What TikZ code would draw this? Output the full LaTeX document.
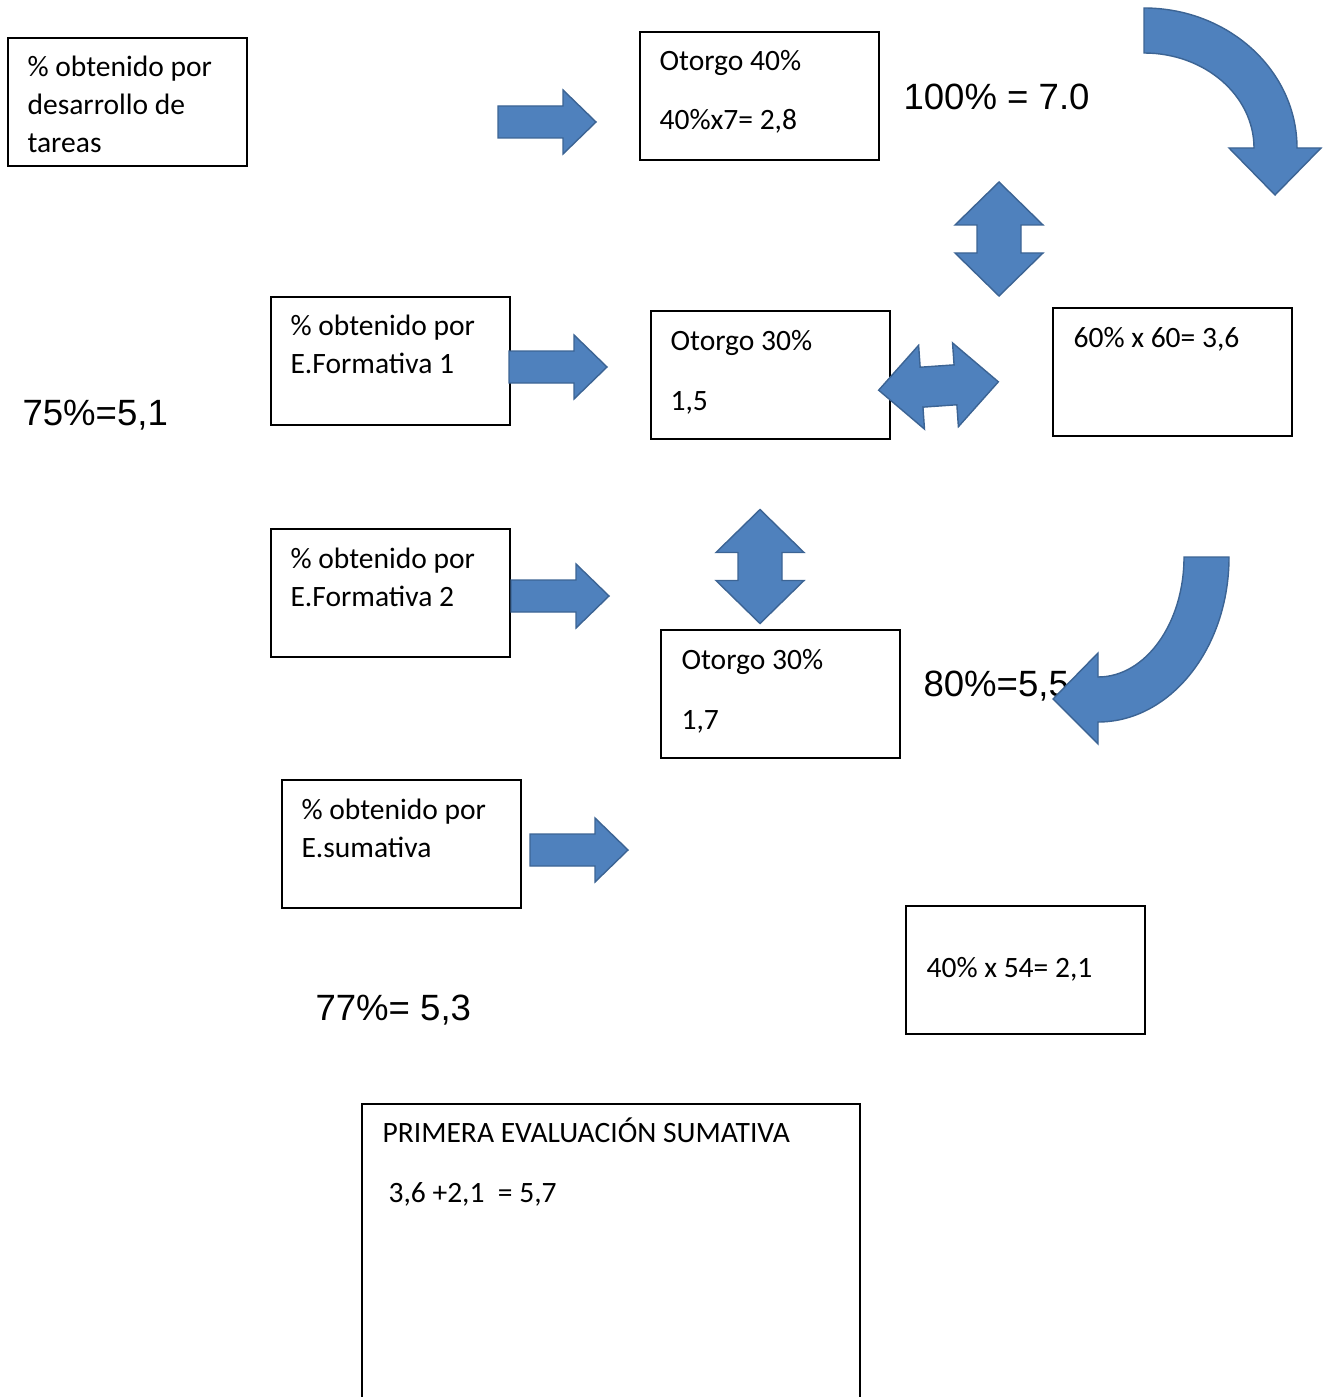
\documentclass[tikz,border=0pt]{standalone}
\usepackage{fontspec}
\newfontfamily\calibri{Carlito}
\newfontfamily\arialf{Liberation Sans}
\usepackage{tikz}
\definecolor{arrowblue}{RGB}{79,129,189}
\definecolor{arrowedge}{RGB}{60,100,148}
\tikzset{
  box/.style={draw, line width=0.7pt, minimum width=2.9875cm, minimum height=1.6cm, inner sep=0pt, anchor=north west},
  txt/.style={font=\calibri\fontsize{10.5}{13.7}\selectfont, anchor=base west, inner sep=0pt},
  big/.style={font=\arialf\fontsize{13}{15}\selectfont, anchor=base west, inner sep=0pt},
  blk/.style={fill=arrowblue, draw=arrowedge, line width=0.5pt, line join=miter},
  rarrow/.pic={\path[blk] (0,-16) -- (65,-16) -- (65,-32) -- (98,0) -- (65,32) -- (65,16) -- (0,16) -- cycle;},
  vdarrow/.pic={\path[blk] (0,-57) -- (44,-14) -- (22,-14) -- (22,14) -- (44,14) -- (0,57) -- (-44,14) -- (-22,14) -- (-22,-14) -- (-44,-14) -- cycle;},
  hdarrow/.pic={\path[blk] (-60,0) -- (-17,-42) -- (-17,-20) -- (17,-20) -- (17,-42) -- (60,0) -- (17,42) -- (17,20) -- (-17,20) -- (-17,42) -- cycle;},
}
\begin{document}
\begin{tikzpicture}[x=0.0125cm, y=-0.0125cm]
  \useasboundingbox (0,0) rectangle (1328,1397);
  % boxes
  \node[box] (tareas) at (7,37) {};
  \node[box] (otorgoA) at (639,31) {};
  \node[box] (formUno) at (270,296) {};
  \node[box] (otorgoB) at (650,310) {};
  \node[box] (total) at (1052,307) {};
  \node[box] (formDos) at (270,528) {};
  \node[box] (otorgoC) at (660,629) {};
  \node[box] (sumativa) at (281,779) {};
  \node[box] (sumaNota) at (905,905) {};
  \node[box, minimum width=6.225cm, minimum height=3.84cm] (primera) at (361,1103) {};

  % texts in the boxes
  \node[txt] (tareas-1) at (27,77) {\% obtenido por};
  \node[txt] (tareas-2) at (27,115) {desarrollo de};
  \node[txt] (tareas-3) at (27,153) {tareas};
  \node[txt] (otorgoA-1) at (659,71) {Otorgo 40\%};
  \node[txt] (otorgoA-2) at (659,130) {40\%x7= 2,8};
  \node[txt] (formUno-1) at (290,336) {\% obtenido por};
  \node[txt] (formUno-2) at (290,374) {E.Formativa 1};
  \node[txt] (otorgoB-1) at (670,350) {Otorgo 30\%};
  \node[txt] (otorgoB-2) at (670,410) {1,5};
  \node[txt] (total-1) at (1073,347) {60\% x 60= 3,6};
  \node[txt] (formDos-1) at (290,568) {\% obtenido por};
  \node[txt] (formDos-2) at (290,606) {E.Formativa 2};
  \node[txt] (otorgoC-1) at (681,669) {Otorgo 30\%};
  \node[txt] (otorgoC-2) at (681,729) {1,7};
  \node[txt] (sumativa-1) at (301,819) {\% obtenido por};
  \node[txt] (sumativa-2) at (301,857) {E.sumativa};
  \node[txt] (sumaNota-1) at (926,977) {40\% x 54= 2,1};
  \node[txt] (primera-1) at (382,1142) {PRIMERA EVALUACIÓN SUMATIVA};
  \node[txt] (primera-2) at (388,1202) {3,6 +2,1 \ = 5,7};

  % loose results
  \node[big] (cien) at (903,110) {100\% = 7.0};
  \node[big] (setenta) at (22,425) {75\%=5,1};
  \node[big] (ochenta) at (923,696) {80\%=5,5};
  \node[big] (setentasiete) at (315,1020) {77\%= 5,3};

  % block arrows
  \pic at (498,122) {rarrow};
  \pic at (509,367) {rarrow};
  \pic at (511,596) {rarrow};
  \pic at (530,850) {rarrow};
  \pic at (999,239) {vdarrow};
  \pic at (760,566.5) {vdarrow};
  \pic[rotate=4] at (938.5,386) {hdarrow};

  % curved arrows
  \path[blk] (1144,8) arc[start angle=-90, end angle=0, x radius=153, y radius=140]
    -- (1321,148) -- (1275,195) -- (1229,148) -- (1254,148)
    arc[start angle=0, end angle=-90, x radius=110, y radius=95] -- cycle;
  \path[blk] (1229,557) arc[start angle=0, end angle=90, x radius=131, y radius=165]
    -- (1098,744) -- (1053,699) -- (1098,653) -- (1098,677)
    arc[start angle=90, end angle=0, x radius=86, y radius=120] -- cycle;
\end{tikzpicture}
\end{document}
